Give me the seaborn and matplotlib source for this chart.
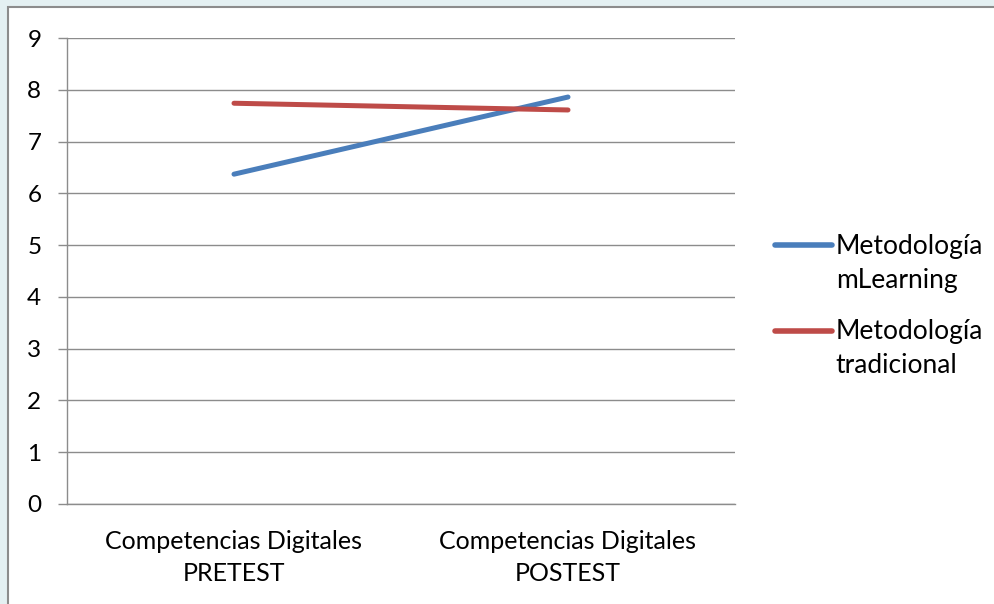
import matplotlib
matplotlib.use("Agg")
import matplotlib.pyplot as plt
import seaborn as sns
import pandas as pd
from matplotlib.patches import Rectangle
from matplotlib.legend_handler import HandlerLine2D

categories = ["Competencias Digitales\nPRETEST", "Competencias Digitales\nPOSTEST"]
mlearning = [6.37, 7.86]
tradicional = [7.74, 7.61]
series_names = ["Metodología\nmLearning", "Metodología\ntradicional"]
yticks = list(range(0, 10))

df = pd.DataFrame({
    "x": list(range(len(categories))) * 2,
    "valor": mlearning + tradicional,
    "serie": [series_names[0]] * 2 + [series_names[1]] * 2,
})

sns.set_style("white")
plt.rcParams["font.family"] = ["Lato", "DejaVu Sans"]
plt.rcParams["text.color"] = "black"
plt.rcParams["xtick.labelcolor"] = "black"
plt.rcParams["ytick.labelcolor"] = "black"

fig = plt.figure(figsize=(9.95, 6.04), dpi=100)
fig.patch.set_facecolor("#e4f0f2")
panel = Rectangle((8 / 995, -0.1), 1.1, 1.1 - 7 / 604, transform=fig.transFigure,
                  facecolor="white", edgecolor="#8c8c8c", linewidth=1.5, zorder=-10)
fig.patches.append(panel)

ax = fig.add_axes([67 / 995, 1 - 504 / 604, (735 - 67) / 995, (504 - 38) / 604])
ax.set_zorder(5)
ax.patch.set_alpha(0)
palette = {series_names[0]: "#4a7ebb", series_names[1]: "#be4b48"}
sns.lineplot(data=df, x="x", y="valor", hue="serie", palette=palette, linewidth=3.6,
             ax=ax, legend=True, solid_capstyle="round")

ax.set_xlim(-0.5, 1.5)
ax.set_ylim(0, 9)
ax.set_yticks(yticks)
ax.set_yticklabels([str(t) for t in yticks], fontsize=17.5)
ax.set_xticks([0, 1])
ax.set_xticklabels(categories, fontsize=18, linespacing=1.45)
ax.set_xticks([-0.5, 0.5, 1.5], minor=True)
ax.tick_params(axis="x", which="major", length=0, pad=19, labelcolor="black")
ax.tick_params(axis="x", which="minor", length=5, color="#8c8c8c", width=1)
ax.tick_params(axis="y", length=6.5, color="#8c8c8c", width=1, left=True, pad=12,
               labelcolor="black")
ax.set_xlabel("")
ax.set_ylabel("")
ax.yaxis.grid(True, color="#8c8c8c", linewidth=1)
ax.set_axisbelow(True)
for s in ["top", "right"]:
    ax.spines[s].set_visible(False)
for s in ["left", "bottom"]:
    ax.spines[s].set_color("#8c8c8c")
    ax.spines[s].set_linewidth(1)


class FirstLineHandler(HandlerLine2D):
    def create_artists(self, legend, orig_handle, xdescent, ydescent, width,
                       height, fontsize, trans):
        arts = super().create_artists(legend, orig_handle, xdescent, ydescent,
                                      width, height, fontsize, trans)
        for a in arts:
            y = a.get_ydata()
            a.set_ydata([v + 13.5 for v in y])
        return arts


handles, labels = ax.get_legend_handles_labels()
if ax.get_legend():
    ax.get_legend().remove()
leg = fig.legend(handles, labels, loc="center left",
                 bbox_to_anchor=(775 / 995, 1 - 306 / 604),
                 frameon=False, fontsize=19, handlelength=2.15, handletextpad=0.15,
                 labelspacing=1.0, borderpad=0, borderaxespad=0,
                 handler_map={type(handles[0]): FirstLineHandler()})
for t in leg.get_texts():
    t.set_linespacing(1.45)
    t.set_color("black")
for line in leg.get_lines():
    line.set_linewidth(4)
    line.set_solid_capstyle("round")

fig.savefig("out.png", dpi=100, facecolor=fig.get_facecolor())
